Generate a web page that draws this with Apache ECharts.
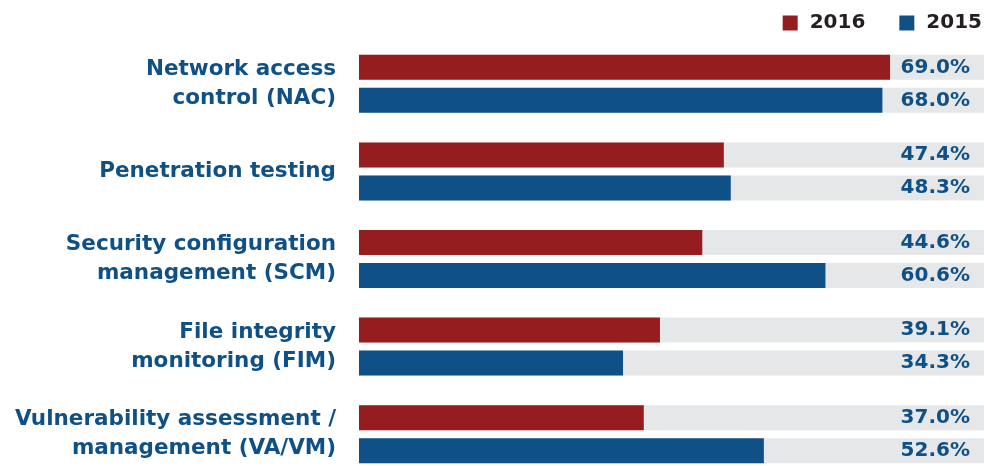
<!DOCTYPE html>
<html>
<head>
<meta charset="utf-8">
<script src="https://cdn.jsdelivr.net/npm/echarts@6/dist/echarts.min.js"></script>
<style>
  html, body { margin: 0; padding: 0; background: #fff; overflow: hidden; }
  /* taller than the window on purpose: the last band runs past the bottom edge */
  #chart { width: 984px; height: 478px; }
</style>
</head>
<body>
<div id="chart"></div>
<script>
const categories = [
  'Network access\ncontrol (NAC)',
  'Penetration testing',
  'Security configuration\nmanagement (SCM)',
  'File integrity\nmonitoring (FIM)',
  'Vulnerability assessment /\nmanagement (VA/VM)'
]
const values2016 = [69.0, 47.4, 44.6, 39.1, 37.0]
const values2015 = [68.0, 48.3, 60.6, 34.3, 52.6]
const axisMax = 81.2

const RED = '#951c1f'
const BLUE = '#0f5186'
const FONT = 'DejaVu Sans'

let chart = echarts.init(document.getElementById('chart'))

// value labels sit at the right end of the grey track
const labelSeries = (name, vals, dy) => ({
  name: name,
  type: 'scatter',
  symbolSize: 0,
  silent: true,
  itemStyle: {opacity: 1},
  data: vals.map((v, i) => [axisMax, i, v]),
  label: {
    show: true,
    position: 'left',
    distance: 14,
    offset: [0, dy],
    formatter: p => p.value[2].toFixed(1) + '%',
    color: BLUE,
    fontFamily: FONT,
    fontWeight: 'bold',
    fontSize: 20
  }
})

chart.setOption({
  animation: false,
  legend: {
    data: ['2016', '2015'],
    right: -3,
    top: 8,
    itemWidth: 15,
    itemHeight: 15,
    itemGap: 34,
    icon: 'rect',
    textStyle: {color: '#231f20', fontFamily: FONT, fontWeight: 'bold', fontSize: 20, padding: [0, 0, 0, 7]}
  },
  grid: {left: 359, top: 40, right: 0, bottom: 0},
  xAxis: {
    type: 'value',
    min: 0,
    max: axisMax,
    show: false
  },
  yAxis: {
    type: 'category',
    data: categories,
    inverse: true,
    axisLine: {show: false},
    axisTick: {show: false},
    axisLabel: {
      margin: 23,
      color: BLUE,
      fontFamily: FONT,
      fontWeight: 'bold',
      fontSize: 21.5,
      lineHeight: 29,
      align: 'right'
    }
  },
  series: [
    {
      name: '2016',
      type: 'bar',
      data: values2016,
      barWidth: 25,
      barGap: '32%',
      itemStyle: {color: RED},
      showBackground: true,
      backgroundStyle: {color: '#e6e7e8'}
    },
    {
      name: '2015',
      type: 'bar',
      data: values2015,
      barWidth: 25,
      itemStyle: {color: BLUE},
      showBackground: true,
      backgroundStyle: {color: '#e6e7e8'}
    },
    labelSeries('2016 label', values2016, -16.5),
    labelSeries('2015 label', values2015, 16.5)
  ]
})
</script>
</body>
</html>
